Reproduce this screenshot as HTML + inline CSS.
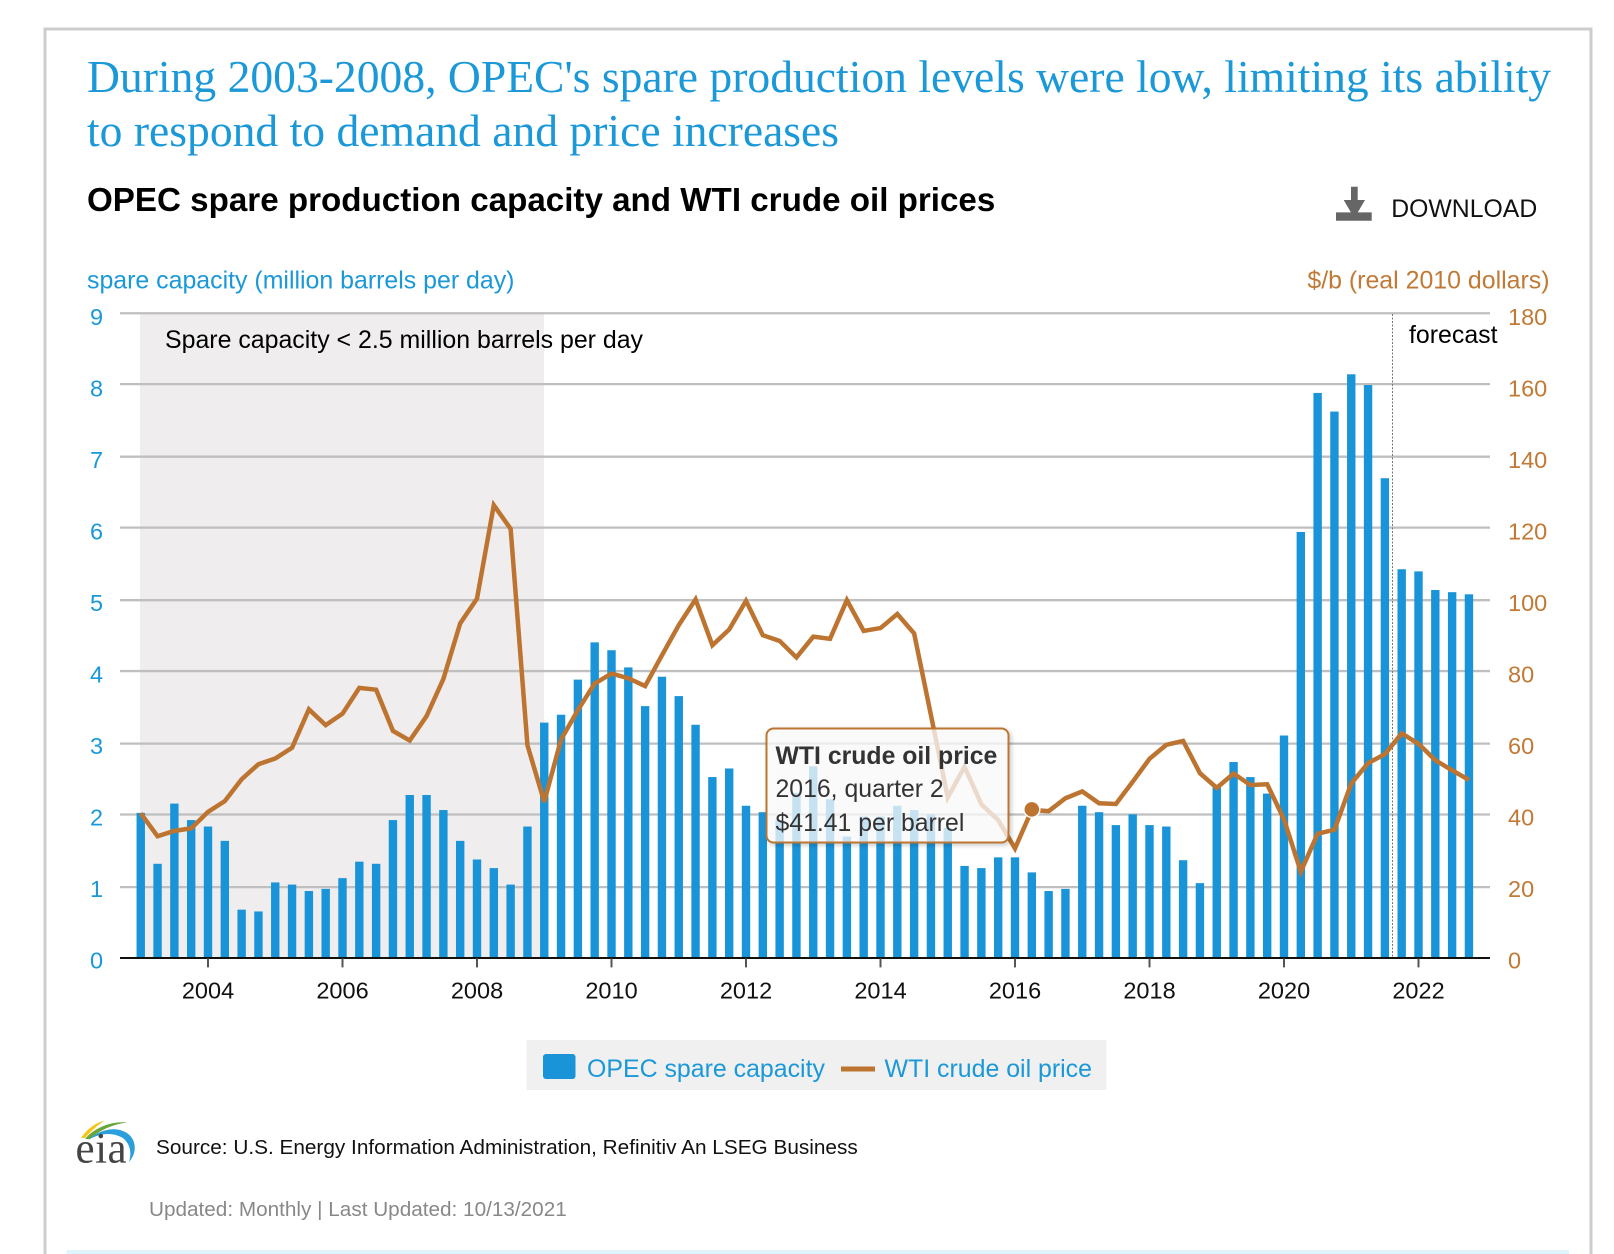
<!DOCTYPE html>
<html lang="en">
<head>
<meta charset="utf-8">
<title>OPEC spare production capacity and WTI crude oil prices</title>
<style>
html,body{margin:0;padding:0;background:#fff;}
body{width:1614px;height:1254px;overflow:hidden;}
svg{display:block;font-family:"Liberation Sans",Arial,sans-serif;}
.t24{font-size:24.9px;}
</style>
</head>
<body>
<svg id="chart" xmlns="http://www.w3.org/2000/svg" width="1614" height="1254" viewBox="0 0 1614 1254">
  <defs>
    <filter id="tip-shadow" x="-5%" y="-5%" width="112%" height="115%">
      <feDropShadow dx="2" dy="2" stdDeviation="2" flood-color="#000" flood-opacity="0.22"/>
    </filter>
  </defs>
  <rect x="0" y="0" width="1614" height="1254" fill="#fff"/>
  <path d="M45 1254V29H1591V1254" fill="none" stroke="#cdcdcd" stroke-width="3"/>
  <rect x="66.5" y="1250" width="1502.5" height="4" fill="#dff4fc"/>

  <text x="87" y="92" font-family="'Liberation Serif',serif" font-size="45.6" fill="#1a98d8">During 2003-2008, OPEC's spare production levels were low, limiting its ability</text>
  <text x="87" y="146" font-family="'Liberation Serif',serif" font-size="45.6" fill="#1a98d8">to respond to demand and price increases</text>
  <text x="87" y="211" font-size="33.16" font-weight="bold" fill="#000">OPEC spare production capacity and WTI crude oil prices</text>

  <g>
    <path fill="#666" d="M1351 186.700H1357.700V200H1365L1357.700 212.500H1351L1343.700 200H1351ZM1336 212.400H1371.700V220.700H1336Z"/>
    <text x="1391.200" y="217" font-size="24.800" fill="#111">DOWNLOAD</text>
  </g>

  <text class="t24" x="87" y="288.500" fill="#1a98d8">spare capacity (million barrels per day)</text>
  <text class="t24" x="1549.500" y="288.500" text-anchor="end" fill="#c07a35">$/b (real 2010 dollars)</text>

  <rect x="140" y="314" width="404" height="644" fill="#efedee"/>
  <g id="grid-layer"></g>
  <text class="t24" x="165" y="348" fill="#000">Spare capacity &lt; 2.5 million barrels per day</text>
  <line x1="1392.5" y1="314" x2="1392.5" y2="958" stroke="#777" stroke-width="1" stroke-dasharray="2 1.5"/>
  <text class="t24" x="1409" y="343" fill="#000">forecast</text>

  <g id="bar-layer"></g>
  <g id="line-layer"></g>
  <g id="axis-layer"></g>

  <g>
    <rect x="766.5" y="728.5" width="242" height="114" rx="7" ry="7" fill="#fff" fill-opacity="0.73" stroke="#bd7430" stroke-width="2" filter="url(#tip-shadow)"/>
    <text x="775.500" y="764" font-size="24.800" font-weight="bold" fill="#333">WTI crude oil price</text>
    <text x="775.500" y="797" font-size="24.800" fill="#333">2016, quarter 2</text>
    <text x="775.500" y="831" font-size="24.800" fill="#333">$41.41 per barrel</text>
  </g>

  <g>
    <rect x="526.5" y="1040" width="580" height="50" fill="#f0f0f0"/>
    <g>
      <rect x="543" y="1054" width="32.5" height="25" rx="3" fill="#1a94d8"/>
      <text class="t24" x="587" y="1077" fill="#1a98d8">OPEC spare capacity</text>
    </g>
    <g>
      <rect x="841" y="1066.5" width="34" height="5" fill="#bd7430"/>
      <text class="t24" x="884.500" y="1077" fill="#1a98d8">WTI crude oil price</text>
    </g>
  </g>

  <g>
    <path fill="#f5c518" d="M81 1138C87 1129 95 1123 104.500 1120.500C98 1125 90 1132 85 1138Z"/>
    <path fill="#6aa53a" d="M85 1139C95 1127 112 1121 127 1122.500C112 1124.500 100 1130 90 1139Z"/>
    <path fill="#2a9fdc" d="M88 1140C100 1129 116 1126 127 1133C137 1140 137 1153 129 1162C132 1152 130 1143 122 1137.500C112 1132 100 1133 88 1140Z"/>
    <text x="75.500" y="1162.300" font-family="'Liberation Serif',serif" font-size="43" letter-spacing="0.5" fill="#444">eia</text>
  </g>
  <text x="156" y="1154" font-size="20.780" fill="#111">Source: U.S. Energy Information Administration, Refinitiv An LSEG Business</text>
  <text x="149" y="1216" font-size="20.720" fill="#888">Updated: Monthly | Last Updated: 10/13/2021</text>
</svg>

<script>
const quarters = [
  "2003Q1","2003Q2","2003Q3","2003Q4","2004Q1","2004Q2","2004Q3","2004Q4",
  "2005Q1","2005Q2","2005Q3","2005Q4","2006Q1","2006Q2","2006Q3","2006Q4",
  "2007Q1","2007Q2","2007Q3","2007Q4","2008Q1","2008Q2","2008Q3","2008Q4",
  "2009Q1","2009Q2","2009Q3","2009Q4","2010Q1","2010Q2","2010Q3","2010Q4",
  "2011Q1","2011Q2","2011Q3","2011Q4","2012Q1","2012Q2","2012Q3","2012Q4",
  "2013Q1","2013Q2","2013Q3","2013Q4","2014Q1","2014Q2","2014Q3","2014Q4",
  "2015Q1","2015Q2","2015Q3","2015Q4","2016Q1","2016Q2","2016Q3","2016Q4",
  "2017Q1","2017Q2","2017Q3","2017Q4","2018Q1","2018Q2","2018Q3","2018Q4",
  "2019Q1","2019Q2","2019Q3","2019Q4","2020Q1","2020Q2","2020Q3","2020Q4",
  "2021Q1","2021Q2","2021Q3","2021Q4","2022Q1","2022Q2","2022Q3","2022Q4"
];
const spareCapacity = [
  2.03,1.32,2.16,1.93,1.84,1.64,0.68,0.655,
  1.06,1.03,0.94,0.97,1.12,1.35,1.32,1.93,
  2.28,2.28,2.07,1.64,1.38,1.26,1.03,1.84,
  3.29,3.40,3.89,4.41,4.30,4.06,3.52,3.93,
  3.66,3.26,2.53,2.65,2.13,2.04,1.93,2.31,
  2.68,2.22,1.70,1.98,1.98,2.13,2.07,2.01,
  1.82,1.29,1.26,1.41,1.41,1.20,0.94,0.97,
  2.13,2.04,1.86,2.01,1.86,1.84,1.37,1.05,
  2.42,2.74,2.53,2.30,3.11,5.95,7.89,7.63,
  8.15,8.00,6.70,5.43,5.40,5.14,5.11,5.08
];
const wtiPrice = [
  40.5,34.1,35.6,36.3,40.9,43.9,50.0,54.2,
  55.8,58.8,69.5,65.1,68.3,75.5,75.0,63.5,
  60.8,67.6,78.0,93.5,100.4,126.5,119.9,59.5,
  43.7,61.1,69.3,76.7,79.5,78.2,76.0,84.6,
  93.0,100.2,87.4,91.8,99.8,90.2,88.6,84.0,
  89.8,89.2,100.0,91.4,92.2,96.1,90.7,67.9,
  44.9,53.5,43.0,38.6,30.7,41.41,41.1,44.7,
  46.6,43.3,43.1,49.3,55.7,59.6,60.7,51.7,
  47.6,51.6,48.4,48.6,38.8,24.2,34.8,35.9,
  48.8,54.5,57.0,62.8,59.9,55.3,52.5,49.8
];
const yearTicks = [2004,2006,2008,2010,2012,2014,2016,2018,2020,2022];
const leftTicks = [0,1,2,3,4,5,6,7,8,9];
const rightTicks = [0,20,40,60,80,100,120,140,160,180];
const highlightedQuarter = "2016Q2";

const SVGNS = "http://www.w3.org/2000/svg";
const BAR_COLOR = "#1a94d8";
const LINE_COLOR = "#bd7430";
const PLOT_LEFT = 120;
const PLOT_RIGHT = 1490;
const BASELINE = 958.4;
const TICK_FONT = "23.5px";

function xYear(t){ return 208 + (t - 2004) * 67.25; }
function quarterToYear(q){ return parseInt(q.slice(0,4),10) + (parseInt(q.slice(5),10) - 1) / 4; }
function yLeft(v){ return BASELINE - v * 71.67; }
function yRight(v){ return BASELINE - v * 3.583; }
/* gridlines sit on the source chart's device-pixel grid */
function gridY(v){ return 958 - Math.round(v * 43.444) * 1.649; }
function leftLabelY(v){ return 968.7 - v * 71.5; }
function rightLabelY(v){ return 968.7 - v * 3.575; }
function make(tag, attrs, parent){
  const el = document.createElementNS(SVGNS, tag);
  for (const k in attrs) el.setAttribute(k, attrs[k]);
  parent.appendChild(el);
  return el;
}

const gridLayer = document.getElementById("grid-layer");
const barLayer = document.getElementById("bar-layer");
const lineLayer = document.getElementById("line-layer");
const axisLayer = document.getElementById("axis-layer");

leftTicks.forEach(function(v){
  if (v > 0) {
    const y = gridY(v);
    const g = make("line", {x1:PLOT_LEFT, x2:PLOT_RIGHT, y1:y, y2:y, stroke:"#bfbfbf", "stroke-width":2.3}, gridLayer);
    
    
  }
  const t = make("text", {x:90, y:leftLabelY(v), fill:"#1a98d8", "font-size":TICK_FONT}, axisLayer);
  t.textContent = String(v);
  
  
});

rightTicks.forEach(function(v){
  const t = make("text", {x:1508, y:rightLabelY(v), fill:"#c07a35", "font-size":TICK_FONT}, axisLayer);
  t.textContent = String(v);
  
  
});

const BAR_W = 8.4;
quarters.forEach(function(q, i){
  const cx = xYear(quarterToYear(q));
  const top = yLeft(spareCapacity[i]);
  const b = make("rect", {x:cx - BAR_W / 2, y:top, width:BAR_W, height:BASELINE - top, fill:BAR_COLOR}, barLayer);
  
  
});

const linePoints = quarters.map(function(q, i){
  return xYear(quarterToYear(q)).toFixed(2) + "," + yRight(wtiPrice[i]).toFixed(2);
}).join(" ");
const priceLine = make("polyline", {points:linePoints, fill:"none", stroke:LINE_COLOR, "stroke-width":4.5, "stroke-linejoin":"miter", "stroke-miterlimit":3}, lineLayer);



const hi = quarters.indexOf(highlightedQuarter);
const marker = make("circle", {cx:xYear(quarterToYear(quarters[hi])), cy:yRight(wtiPrice[hi]) - 0.7, r:8, fill:LINE_COLOR, stroke:"#fff", "stroke-width":1.5}, lineLayer);



const xAxisLine = make("line", {x1:PLOT_LEFT, x2:PLOT_RIGHT, y1:BASELINE - 0.4, y2:BASELINE - 0.4, stroke:"#111", "stroke-width":2}, axisLayer);



yearTicks.forEach(function(yr){
  const x = xYear(yr);
  const tick = make("line", {x1:x, x2:x, y1:BASELINE, y2:BASELINE + 9, stroke:"#555", "stroke-width":2}, axisLayer);
  
  
  const t = make("text", {x:x, y:BASELINE + 40, fill:"#111", "text-anchor":"middle", "font-size":TICK_FONT}, axisLayer);
  t.textContent = String(yr);
  
  
});
</script>
</body>
</html>
